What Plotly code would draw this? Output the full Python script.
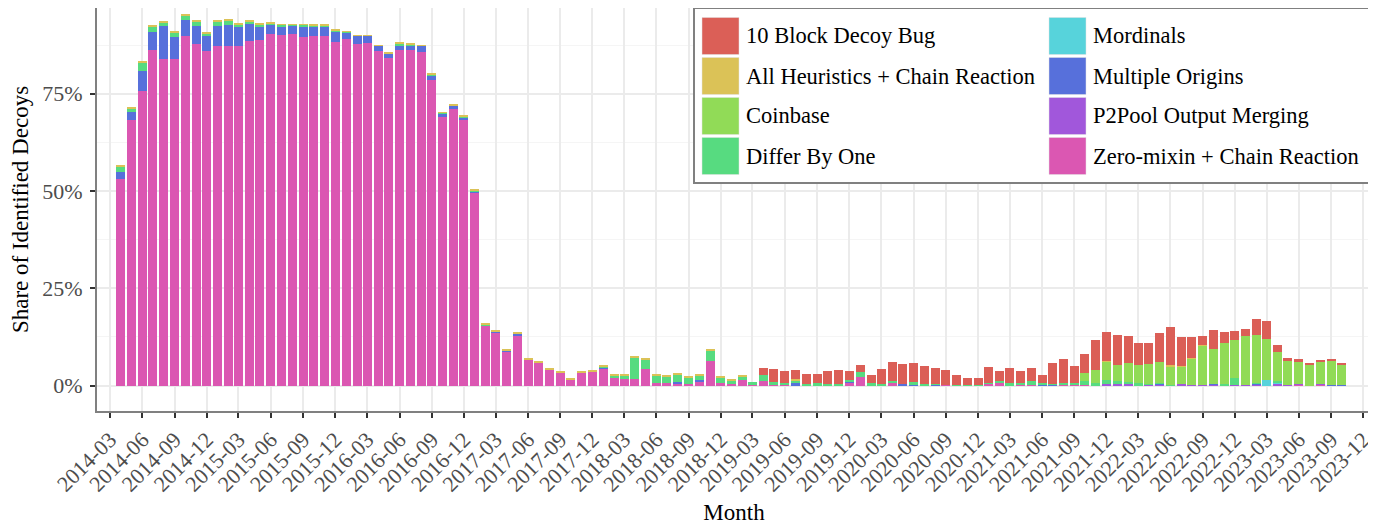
import pandas as pd
import plotly.graph_objects as go

# ---------------- data (percent of identified decoys, monthly) ----------------
months = pd.date_range("2014-04-01", periods=115, freq="MS").strftime("%Y-%m-%d").tolist()

zero_mixin = [
    53.2, 68.3, 75.7, 86.3, 83.9, 83.9, 89.9, 87.8, 86.0, 87.3, 87.3, 87.3, 88.6, 88.8, 90.4, 90.1,
    90.4, 89.6, 89.9, 89.9, 88.3, 89.1, 87.8, 88.1, 86.0, 84.2, 86.3, 86.3, 85.7, 78.6, 69.1, 71.1,
    68.3, 49.6,
    15.3, 13.6, 8.7, 12.9, 6.6, 5.8, 4.0, 3.3, 1.5, 3.3, 3.5, 4.3, 2.0, 1.7, 1.7, 4.3, 0.7, 0.7,
    0.4, 0.5, 1.0, 6.3, 0.7, 0.3, 1.5, 0.2,
    1.2, 0.2, 0.1, 0.1, 0.1, 0.0, 0.1, 0.1, 0.7, 2.2, 0.0, 0.0, 0.7, 0.0, 0.0, 0.1, 0.0, 0.15,
    0.0, 0.1, 0.0, 0.4, 0.7, 0.0, 0.1, 0.2, 0.0, 0.0, 0.1, 0.1,
    0.2, 0.0, 0.0, 0.0, 0.1, 0.0, 0.0, 0.0, 0.0, 0.0, 0.0, 0.0, 0.0, 0.0, 0.0, 0.0, 0.0, 0.0,
    0.0, 0.0, 0.15, 0.0, 0.15, 0.0, 0.0,
]
p2pool = [0.0] * 91 + [
    0.0, 0.3, 0.3, 0.2, 0.0, 0.3, 0.3, 0.0, 0.3, 0.2, 0.2, 0.2, 0.0, 0.2, 0.2, 0.2, 0.0, 0.3,
    0.1, 0.15, 0.0, 0.15, 0.0, 0.0, 0.0,
]
multiple_origins = [
    1.7, 2.0, 5.2, 4.6, 8.5, 5.7, 4.1, 4.6, 3.9, 5.1, 5.4, 4.9, 4.3, 3.4, 2.5, 2.3, 2.2, 2.8,
    2.3, 2.3, 2.6, 1.7, 2.1, 1.8, 1.3, 1.2, 1.2, 1.2, 1.6, 1.0, 0.7, 0.8, 0.7, 0.4,
    0.0, 0.3, 0.2, 0.5, 0.0, 0.0, 0.0, 0.0, 0.0, 0.0, 0.0, 0.3, 0.0, 0.0, 0.0, 0.0, 0.0, 0.0,
    0.4, 0.0, 0.3, 0.0, 0.0, 0.0, 0.0, 0.0,
    0.0, 0.0, 0.0, 0.5, 0.0, 0.0, 0.0, 0.0, 0.25, 0.0, 0.0, 0.0, 0.0, 0.3, 0.25, 0.0, 0.25, 0.0,
    0.0, 0.0, 0.0, 0.0, 0.0, 0.0, 0.0, 0.0, 0.2, 0.2, 0.0, 0.0,
    0.0, 0.0, 0.0, 0.0, 0.0, 0.0, 0.0, 0.3, 0.0, 0.0, 0.0, 0.0, 0.3, 0.0, 0.0, 0.0, 0.2, 0.0,
    0.0, 0.0, 0.0, 0.0, 0.0, 0.15, 0.15,
]
mordinals = [0.0] * 107 + [1.4, 0.6, 0.0, 0.0, 0.0, 0.0, 0.0, 0.0]
differ_by_one = [
    1.2, 0.8, 2.1, 1.5, 0.8, 1.2, 1.0, 1.1, 0.7, 1.1, 1.1, 0.7, 0.6, 0.6, 0.1, 0.4, 0.1, 0.3,
    0.3, 0.3, 0.4, 0.1, 0.0, 0.0, 0.0, 0.0, 0.3, 0.2, 0.0, 0.3, 0.3, 0.1, 0.2, 0.2,
    0.3, 0.0, 0.0, 0.1, 0.0, 0.0, 0.0, 0.0, 0.0, 0.0, 0.0, 0.2, 0.7, 1.0, 5.4, 2.3, 2.0, 1.5,
    2.0, 1.5, 1.3, 2.6, 1.3, 0.9, 0.7, 0.75,
    1.55, 0.75, 0.6, 0.7, 0.3, 0.7, 0.3, 0.3, 0.55, 1.3, 0.7, 0.4, 0.5, 0.0, 0.7, 0.3, 0.05, 0.0,
    0.2, 0.05, 0.1, 0.3, 0.5, 0.7, 0.6, 1.0, 0.5, 0.2, 0.6, 0.6,
    1.0, 0.65, 1.2, 0.75, 0.6, 0.65, 0.1, 0.1, 0.1, 0.0, 0.0, 0.0, 0.0, 0.5, 1.8, 0.0, 0.2, 0.0,
    0.25, 0.0, 0.0, 0.0, 0.0, 0.0, 0.0,
]
coinbase = [0.0] * 90 + [
    2.06, 3.35, 4.6, 4.1, 4.9, 4.65, 5.2, 5.4, 4.9, 4.6, 6.7, 10.0, 8.9, 10.5, 9.7, 12.6, 12.4,
    10.55, 7.45, 6.45, 5.9, 5.45, 5.9, 6.2, 5.15,
]
all_heuristics = [
    0.6, 0.5, 0.3, 0.4, 0.3, 0.2, 0.3, 0.3, 0.3, 0.3, 0.3, 0.3, 0.3, 0.2, 0.3, 0.1, 0.2, 0.2,
    0.2, 0.2, 0.4, 0.2, 0.2, 0.2, 0.2, 0.3, 0.3, 0.3, 0.2, 0.3, 0.2, 0.2, 0.4, 0.3,
    0.3, 0.2, 0.3, 0.3, 0.3, 0.3, 0.3, 0.3, 0.2, 0.2, 0.3, 0.3, 0.2, 0.3, 0.3, 0.3, 0.3, 0.3,
    0.2, 0.2, 0.2, 0.3, 0.2, 0.3, 0.3, 0.0,
    0.0, 0.0, 0.0, 0.25, 0.0, 0.0, 0.0, 0.0, 0.0, 0.0, 0.0, 0.0, 0.0, 0.0, 0.0, 0.0, 0.0, 0.0,
    0.0, 0.0, 0.0, 0.0, 0.0, 0.0, 0.0, 0.0, 0.0, 0.0, 0.0, 0.0,
    0.0, 0.0, 0.25, 0.0, 0.0, 0.0, 0.0, 0.0, 0.15, 0.15, 0.1, 0.1, 0.0, 0.0, 0.0, 0.0, 0.0, 0.0,
    0.0, 0.0, 0.1, 0.0, 0.0, 0.0, 0.0,
]
block10_bug = [0.0] * 60 + [
    1.8, 3.35, 3.1, 2.45, 2.6, 2.3, 3.4, 3.6, 2.3, 1.8, 2.05, 3.9, 4.9, 5.3, 4.85, 4.66, 4.25,
    3.85, 2.55, 1.85, 1.9, 4.1, 2.6, 3.85, 3.1, 3.35, 2.05, 5.4, 6.2, 4.36,
    4.9, 7.7, 7.45, 7.95, 6.9, 5.6, 5.4, 7.5, 9.9, 7.35, 5.5, 2.5, 4.8, 2.8, 2.3, 1.8, 4.1,
    4.65, 1.8, 0.5, 0.45, 0.2, 0.25, 0.25, 0.3,
]

# stacking order: first = bottom
series = [
    ("Zero-mixin + Chain Reaction", zero_mixin, "#DB57B2"),
    ("P2Pool Output Merging", p2pool, "#A157DB"),
    ("Multiple Origins", multiple_origins, "#5770DB"),
    ("Mordinals", mordinals, "#57D3DB"),
    ("Differ By One", differ_by_one, "#57DB80"),
    ("Coinbase", coinbase, "#91DB57"),
    ("All Heuristics + Chain Reaction", all_heuristics, "#DBC257"),
    ("10 Block Decoy Bug", block10_bug, "#DB5F57"),
]
color_of = {n: c for n, _, c in series}
legend_col1 = ["10 Block Decoy Bug", "All Heuristics + Chain Reaction", "Coinbase", "Differ By One"]
legend_col2 = ["Mordinals", "Multiple Origins", "P2Pool Output Merging", "Zero-mixin + Chain Reaction"]

y_ticks = [0, 25, 50, 75]
y_tick_labels = ["0%", "25%", "50%", "75%"]

# ---------------- layout geometry (pixels, page has an 8px body margin) ----------------
OFF = 8
W, H = 1376 - OFF, 525 - OFF
L, R, T, B = 97 - OFF, 1371 - OFF, 0, 411 - OFF
FONT = "Liberation Serif"

def px_x(p):
    # p given in screen pixels
    return (p - OFF - L) / (R - L)

def px_y(p):
    return (B - (p - OFF)) / (B - T)

fig = go.Figure()
bar_width = 25.6 * 86400000
for name, vals, col in series:
    fig.add_trace(go.Bar(
        x=months, y=vals, name=name, width=bar_width,
        marker=dict(color=col, line=dict(width=0)),
        showlegend=False,
    ))

fig.update_layout(
    width=W, height=H,
    margin=dict(l=L, r=W - R, t=T, b=H - B, autoexpand=False),
    barmode="stack",
    plot_bgcolor="white", paper_bgcolor="white",
    font=dict(family=FONT, size=22, color="#4D4D4D"),
    showlegend=False,
)
fig.update_xaxes(
    type="date", range=["2014-01-23", "2023-12-23"],
    tick0="2014-03-01", dtick="M3", tickformat="%Y-%m", tickangle=-45,
    ticks="outside", ticklen=5, tickwidth=1.5, tickcolor="#333333",
    tickfont=dict(family=FONT, size=22, color="#4D4D4D"),
    showgrid=True, gridcolor="#EBEBEB", gridwidth=1.5,
    showline=True, mirror=True, linecolor="#808080", linewidth=2,
    zeroline=False, automargin=False,
    title=dict(text="Month", font=dict(family=FONT, size=23, color="black"), standoff=12),
)
fig.update_yaxes(
    range=[-6.55, 97.05], tickmode="array", tickvals=y_ticks, ticktext=y_tick_labels,
    ticks="outside", ticklen=5, tickwidth=1.5, tickcolor="#333333",
    tickfont=dict(family=FONT, size=22, color="#4D4D4D"),
    ticklabelstandoff=3,
    showgrid=True, gridcolor="#EBEBEB", gridwidth=1.5,
    minor=dict(tickvals=[12.5, 37.5, 62.5, 87.5], showgrid=True, gridcolor="#F5F5F5", gridwidth=1.2, ticks=""),
    showline=True, mirror=True, linecolor="#808080", linewidth=2,
    zeroline=False, automargin=False,
    title=dict(text="Share of Identified Decoys", font=dict(family=FONT, size=23, color="black"), standoff=14),
)

# ---------------- legend (drawn as box + swatches + text) ----------------
shapes = [dict(type="rect", xref="paper", yref="paper",
               x0=px_x(694), x1=1.0, y0=px_y(183), y1=1.0,
               fillcolor="white", line=dict(color="#808080", width=2), layer="above")]
annotations = []
row_centers = [36, 76, 116, 156]
for col_names, sw_x, tx_x in [(legend_col1, 702, 744), (legend_col2, 1049, 1091)]:
    for name, cy in zip(col_names, row_centers):
        shapes.append(dict(type="rect", xref="paper", yref="paper",
                           x0=px_x(sw_x), x1=px_x(sw_x + 37),
                           y0=px_y(cy + 18.5), y1=px_y(cy - 18.5),
                           fillcolor=color_of[name], line=dict(color="#E0E0E0", width=0.5),
                           layer="above"))
        annotations.append(dict(xref="paper", yref="paper", x=px_x(tx_x), y=px_y(cy),
                                xanchor="left", yanchor="middle", showarrow=False,
                                text=name, font=dict(family=FONT, size=22.5, color="black")))
fig.update_layout(shapes=shapes, annotations=annotations)

fig.write_html("out.html")
